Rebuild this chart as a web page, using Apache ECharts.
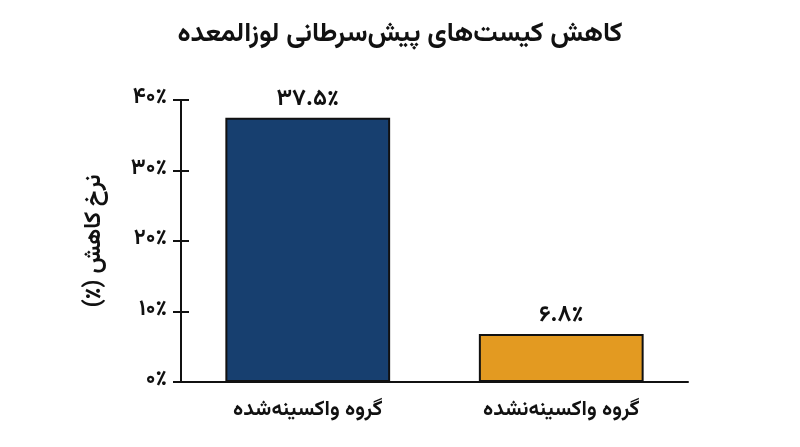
<!DOCTYPE html>
<html>
<head>
<meta charset="utf-8">
<script src="https://cdn.jsdelivr.net/npm/echarts@6/dist/echarts.min.js"></script>
<style>
    html, body { margin: 0; padding: 0; background: #fff; }
    #chart { width: 800px; height: 447px; }
</style>
</head>
<body>
<div id="chart" dir="rtl"></div>
<script>
var categories = ['گروه واکسینه‌شده', 'گروه واکسینه‌نشده'];
var reductionValues = [37.5, 6.8];
var barColors = ['#173f6f', '#e39a21'];
var tickValues = [0, 10, 20, 30, 40];

var FONT = "'Vazirmatn', 'Noto Sans Arabic', 'DejaVu Sans', sans-serif";

//تبدیل ارقام به فارسی
function toFa(str) {
    var fa = ['۰', '۱', '۲', '۳', '۴', '۵', '۶', '۷', '۸', '۹'];
    return String(str).replace(/[0-9]/g, function (d) { return fa[+d]; });
}

var chart = echarts.init(document.getElementById('chart'));

var yBase = {
    type: 'value',
    min: tickValues[0],
    max: tickValues[tickValues.length - 1],
    interval: 10,
    position: 'left',
    splitLine: { show: false },
    axisLine: { show: true, lineStyle: { color: '#111', width: 2 } }
};

var option = {
    animation: false,
    textStyle: { fontFamily: FONT },
    title: {
        text: 'کاهش کیست‌های پیش‌سرطانی لوزالمعده',
        left: 'center',
        top: 18,
        textStyle: { fontFamily: FONT, fontSize: 27, fontWeight: 'bold', color: '#111' }
    },
    grid: { left: 181, right: 112, top: 100, bottom: 65 },
    xAxis: {
        type: 'category',
        data: categories,
        axisLine: { lineStyle: { color: '#111', width: 2 } },
        axisTick: { show: false },
        axisLabel: {
            margin: 19,
            fontFamily: FONT,
            fontSize: 21,
            fontWeight: 'bold',
            color: '#111'
        }
    },
    yAxis: [
        Object.assign({}, yBase, {
            name: 'نرخ کاهش (٪)',
            nameLocation: 'middle',
            nameGap: 73,
            nameTextStyle: { fontFamily: FONT, fontSize: 23, fontWeight: 'bold', color: '#111' },
            axisTick: { show: true, length: 8, lineStyle: { color: '#111', width: 2 } },
            axisLabel: {
                margin: 14,
                fontFamily: FONT,
                fontSize: 22,
                fontWeight: 'bold',
                color: '#111',
                formatter: function (v) { return toFa(v) + '٪'; }
            }
        }),
        Object.assign({}, yBase, {
            axisTick: { show: true, inside: true, length: 8, lineStyle: { color: '#111', width: 2 } },
            axisLabel: { show: false }
        })
    ],
    series: [{
        type: 'bar',
        barWidth: '65%',
        data: reductionValues.map(function (v, i) {
            return { value: v, itemStyle: { color: barColors[i] } };
        }),
        itemStyle: { borderColor: '#111', borderWidth: 2 },
        label: {
            show: true,
            position: 'top',
            distance: 5,
            fontFamily: FONT,
            fontSize: 23,
            fontWeight: 'bold',
            color: '#111',
            formatter: function (p) { return toFa(p.value.toFixed(1)) + '٪'; }
        }
    }]
};

chart.setOption(option);
</script>
</body>
</html>
